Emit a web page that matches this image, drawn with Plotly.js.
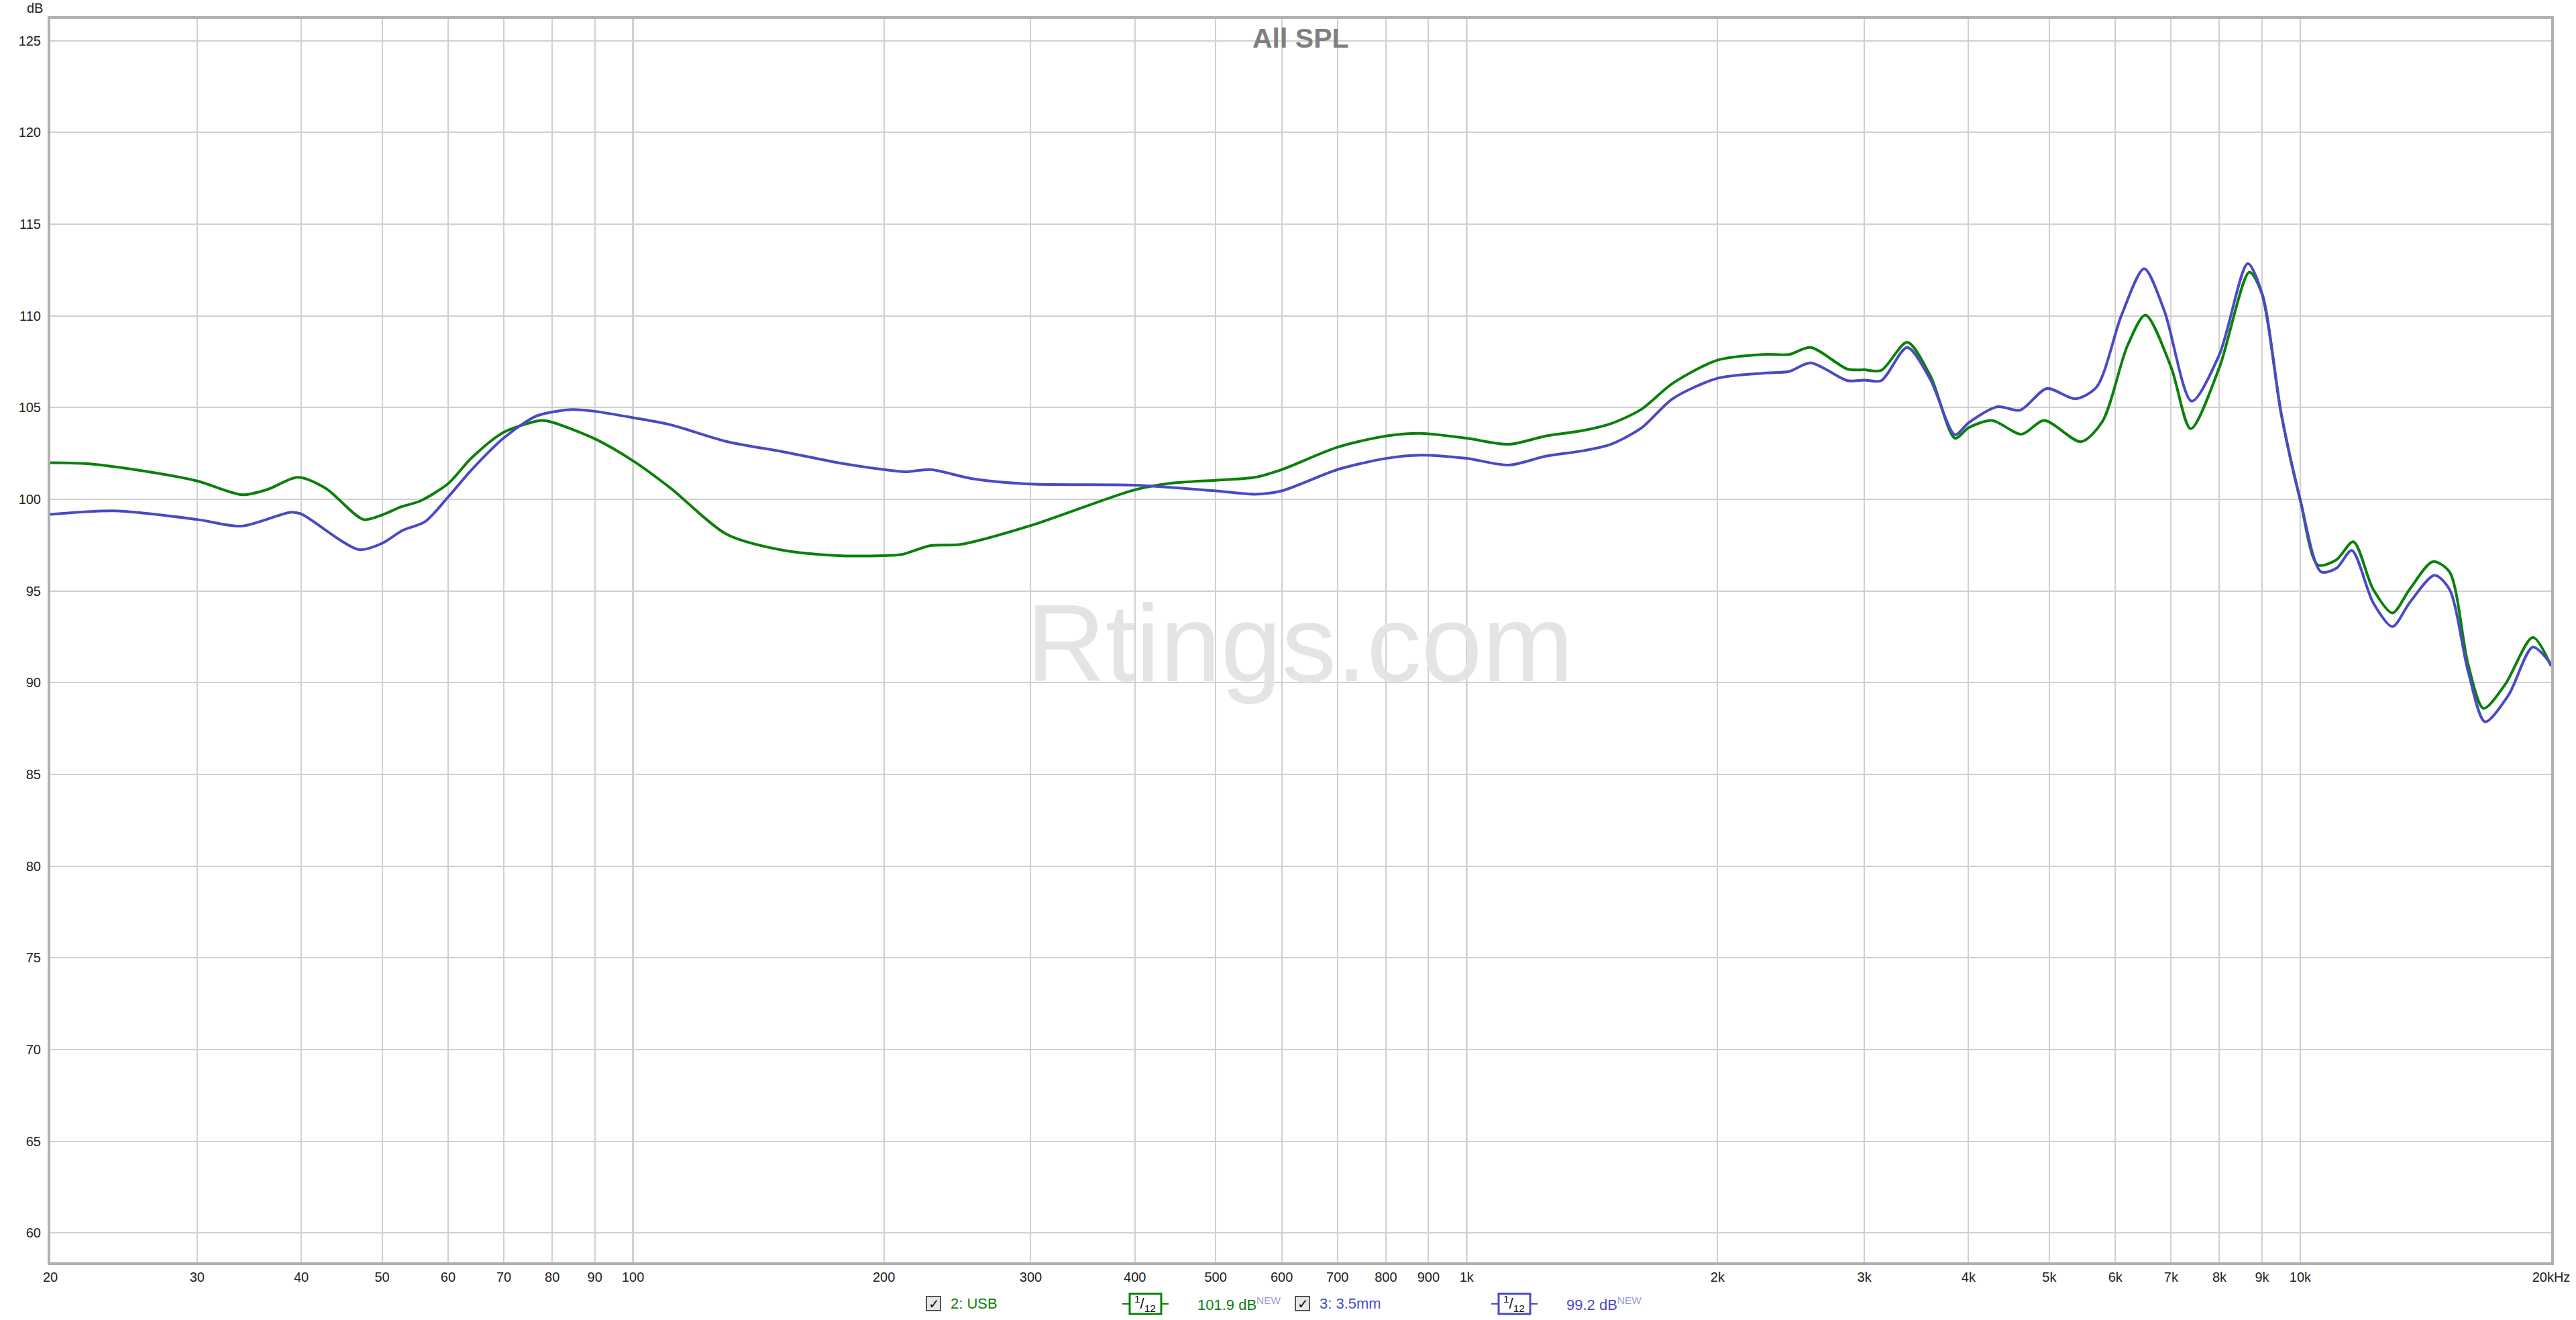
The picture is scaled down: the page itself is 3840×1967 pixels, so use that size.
<!DOCTYPE html>
<html>
<head>
<meta charset="utf-8">
<script src="https://cdn.plot.ly/plotly-3.0.1.min.js"></script>
<style>
html,body{margin:0;padding:0;background:#fff;}
#chart{width:3840px;height:1967px;}
</style>
</head>
<body>
<div id="chart"></div>
<script>
// ---- data ----
const usbFreq = [20,22,25,30,34,36.5,39.6,42.8,47.5,50,52.8,55.5,60,64,70,77.7,80,90,100,111,129.6,151,176.5,200,210,227.6,247,300,400,444,500,557,600,700,800,881,1000,1124,1244,1380,1489,1622,1766,2000,2274,2437,2586,2864,3000,3143,3377,3603,3853,4000,4267,4630,4930,5459,5793,6204,6521,7000,7390,8000,8690,9000,9490,10000,10500,11050,11580,12230,12900,13530,14420,15100,15900,16590,17610,19010,20000];
const usbSPL  = [102.0,101.95,101.65,101.0,100.25,100.55,101.2,100.6,98.9,99.15,99.6,99.9,100.85,102.25,103.66,104.3,104.2,103.3,102.1,100.6,98.09,97.23,96.93,96.93,96.99,97.48,97.54,98.57,100.52,100.89,101.04,101.2,101.62,102.84,103.45,103.6,103.33,103.0,103.45,103.75,104.12,104.92,106.32,107.59,107.9,107.9,108.28,107.1,107.06,107.03,108.56,106.7,103.33,103.9,104.3,103.55,104.3,103.14,104.26,108.37,110.05,107.2,103.85,107.2,112.39,111.2,104.64,99.97,96.42,96.7,97.69,95.1,93.8,95.1,96.6,96.05,91.0,88.6,89.9,92.47,90.9];

const jackFreq = [20,23.9,30,33.9,38.9,40,46.9,50,52.9,56.3,60,64,70,76.2,80,84.8,90,100,111,129.6,151,176.5,200,212,227.6,255,300,400,500,557,600,700,800,881,1000,1124,1244,1380,1489,1622,1766,2000,2274,2437,2586,2864,3000,3143,3377,3603,3853,4000,4335,4613,4966,5371,5700,6105,6498,6875,7410,8000,8650,9000,9490,10000,10590,11050,11530,12230,12900,13530,14490,15100,15900,16660,17780,19010,20000];
const jackSPL  = [99.18,99.37,98.9,98.54,99.3,99.2,97.26,97.6,98.3,98.78,100.12,101.6,103.35,104.5,104.76,104.9,104.8,104.45,104.06,103.15,102.6,101.99,101.62,101.5,101.62,101.13,100.83,100.77,100.46,100.28,100.46,101.62,102.23,102.41,102.23,101.87,102.35,102.65,103.0,103.9,105.48,106.6,106.88,106.97,107.44,106.47,106.5,106.47,108.28,106.5,103.52,104.17,105.05,104.86,106.04,105.48,106.13,110.05,112.57,110.24,105.35,107.9,112.85,111.2,104.64,99.97,96.05,96.24,97.21,94.37,93.06,94.37,95.86,95.1,90.62,87.87,89.33,91.94,91.0];

const xTickVals = [20,30,40,50,60,70,80,90,100,200,300,400,500,600,700,800,900,1000,2000,3000,4000,5000,6000,7000,8000,9000,10000,20000];
const xTickText = ["20","30","40","50","60","70","80","90","100","200","300","400","500","600","700","800","900","1k","2k","3k","4k","5k","6k","7k","8k","9k","10k","20kHz"];
const yTickVals = [60,65,70,75,80,85,90,95,100,105,110,115,120,125];
const yTickText = yTickVals.map(String);
const decadeLines = [100,1000,10000];

const seriesNames = ["2: USB","3: 3.5mm"];
const seriesLevels = ["101.9 dB","99.2 dB"];

// ---- styling ----
const GREEN = "#0b800b";
const BLUE = "#4a4ac4";
const FONT = "Liberation Sans, Arial, sans-serif";

// plot area in pixels
const L = 75, R = 3803, T = 28, B = 1881, W = 3840, H = 1967;
const px = x => (x - L) / (R - L);
const py = y => (B - y) / (B - T);

const traces = [
  {x: usbFreq, y: usbSPL, type: "scatter", mode: "lines", name: seriesNames[0],
   line: {color: GREEN, width: 4, shape: "spline", smoothing: 0.8}, hoverinfo: "skip"},
  {x: jackFreq, y: jackSPL, type: "scatter", mode: "lines", name: seriesNames[1],
   line: {color: BLUE, width: 4, shape: "spline", smoothing: 0.8}, hoverinfo: "skip"}
];

const shapes = decadeLines.map(v => ({
  type: "line", xref: "x", yref: "paper", x0: v, x1: v, y0: 0, y1: 1,
  line: {color: "#9a9a9a", width: 2}, layer: "below"
}));

const annotations = [
  {text: "All SPL", xref: "paper", yref: "paper", x: 0.5, y: py(57), showarrow: false,
   font: {family: FONT, size: 41, color: "#7f7f7f", weight: "bold"}, xanchor: "center", yanchor: "middle"},
  {text: "dB", xref: "paper", yref: "paper", x: px(66), y: py(12), showarrow: false,
   font: {family: FONT, size: 20, color: "#222"}, xanchor: "right", yanchor: "middle"},
  {text: "Rtings.com", xref: "paper", yref: "paper", x: px(1937), y: py(958), showarrow: false,
   font: {family: FONT, size: 163, color: "#e4e4e4"}, xanchor: "center", yanchor: "middle"}
];

// legend row at bottom
const LY = 1943;
const legendItems = [
  {cb: 1381, name: 1415, box: 1684, lvl: 1783, color: GREEN, i: 0},
  {cb: 1931, name: 1965, box: 2234, lvl: 2333, color: BLUE, i: 1}
];
legendItems.forEach(it => {
  shapes.push({type: "rect", xref: "paper", yref: "paper", x0: px(it.cb), x1: px(it.cb + 21),
    y0: py(LY + 10), y1: py(LY - 11), fillcolor: "#e6e6e6", line: {color: "#555", width: 2}});
  annotations.push({text: "✓", xref: "paper", yref: "paper", x: px(it.cb + 11), y: py(LY), showarrow: false,
    font: {family: "DejaVu Sans", size: 20, color: "#111", weight: "bold"}, xanchor: "center", yanchor: "middle"});
  annotations.push({text: seriesNames[it.i], xref: "paper", yref: "paper", x: px(it.name), y: py(LY), showarrow: false,
    font: {family: FONT, size: 22, color: it.color}, xanchor: "left", yanchor: "middle"});
  shapes.push({type: "line", xref: "paper", yref: "paper", x0: px(it.box - 11), x1: px(it.box + 58),
    y0: py(LY), y1: py(LY), line: {color: it.color, width: 2}});
  shapes.push({type: "rect", xref: "paper", yref: "paper", x0: px(it.box), x1: px(it.box + 47),
    y0: py(LY + 15), y1: py(LY - 15), fillcolor: "#ffffff", line: {color: it.color, width: 3}});
  annotations.push({text: "<sup>1</sup>/<sub>12</sub>", xref: "paper", yref: "paper", x: px(it.box + 23), y: py(LY), showarrow: false,
    font: {family: FONT, size: 22, color: "#111"}, xanchor: "center", yanchor: "middle"});
  annotations.push({text: seriesLevels[it.i] + "<sup><span style='color:#9a9ae0'>NEW</span></sup>", xref: "paper", yref: "paper",
    x: px(it.lvl), y: py(LY), showarrow: false,
    font: {family: FONT, size: 22, color: it.color}, xanchor: "left", yanchor: "middle"});
});

const layout = {
  width: W, height: H, autosize: false,
  margin: {l: L, r: W - R, t: T, b: H - B, pad: 0},
  paper_bgcolor: "#ffffff", plot_bgcolor: "#ffffff",
  showlegend: false,
  font: {family: FONT, size: 20, color: "#222"},
  xaxis: {type: "log", range: [Math.log10(20), Math.log10(20000)],
    tickvals: xTickVals, ticktext: xTickText, tickangle: 0,
    showgrid: true, gridcolor: "#d0d0d0", gridwidth: 2,
    ticks: "outside", ticklen: 1, tickcolor: "rgba(0,0,0,0)",
    showline: true, linecolor: "#b0b0b0", linewidth: 4, mirror: true,
    zeroline: false, tickfont: {family: FONT, size: 20, color: "#222"}},
  yaxis: {range: [58.4, 126.2], tickvals: yTickVals, ticktext: yTickText,
    showgrid: true, gridcolor: "#d0d0d0", gridwidth: 2,
    ticks: "outside", ticklen: 6, tickcolor: "rgba(0,0,0,0)",
    showline: true, linecolor: "#b0b0b0", linewidth: 4, mirror: true,
    zeroline: false, tickfont: {family: FONT, size: 20, color: "#222"}},
  shapes: shapes,
  annotations: annotations
};

Plotly.newPlot("chart", traces, layout, {staticPlot: true, displayModeBar: false});
</script>
</body>
</html>
